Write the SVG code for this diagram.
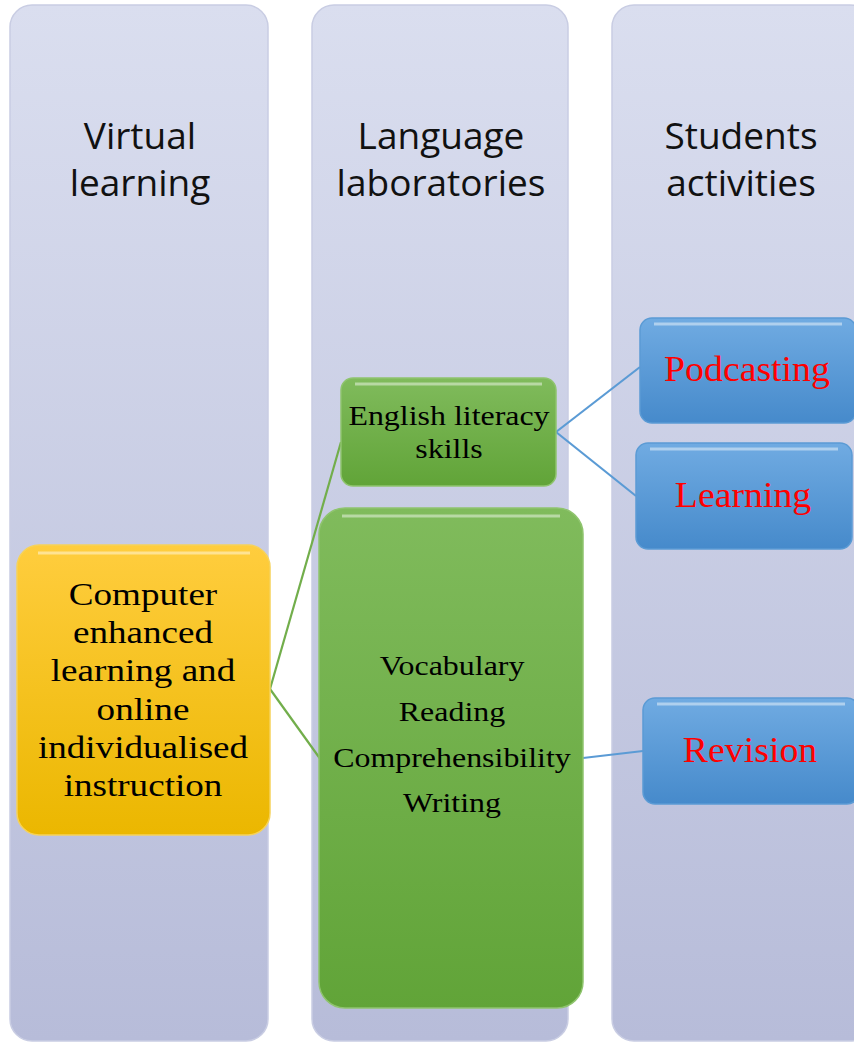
<svg xmlns="http://www.w3.org/2000/svg" width="854" height="1046" viewBox="0 0 854 1046">
<defs>
<linearGradient id="gCol" x1="0" y1="0" x2="0" y2="1"><stop offset="0" stop-color="#dadeef"/><stop offset="1" stop-color="#b7bcd9"/></linearGradient>
<linearGradient id="gY" x1="0" y1="0" x2="0" y2="1"><stop offset="0" stop-color="#ffcd3e"/><stop offset="1" stop-color="#ebb700"/></linearGradient>
<linearGradient id="gG" x1="0" y1="0" x2="0" y2="1"><stop offset="0" stop-color="#80bb5c"/><stop offset="1" stop-color="#61a438"/></linearGradient>
<linearGradient id="gB" x1="0" y1="0" x2="0" y2="1"><stop offset="0" stop-color="#70abe2"/><stop offset="1" stop-color="#468acb"/></linearGradient>
</defs>
<style>
.col{fill:url(#gCol);stroke:#c9cde3;stroke-width:1.5}
.hd{font-family:"Open Sans","Liberation Sans",sans-serif;font-size:37px;fill:#111;text-anchor:middle}
.tm{font-family:"Liberation Serif",serif;fill:#000;text-anchor:middle}
.red{font-family:"Liberation Serif",serif;fill:#ff0000;text-anchor:middle;font-size:35px}
.hl{fill:none;stroke:#ffffff;stroke-opacity:0.45;stroke-width:3}
</style>
<rect width="854" height="1046" fill="#ffffff"/>
<g id="col1"><rect class="col" x="10" y="5" width="258" height="1036" rx="22"/><text class="hd" x="140" y="149">Virtual</text><text class="hd" x="140" y="196">learning</text></g>
<g id="col2"><rect class="col" x="312" y="5" width="256" height="1036" rx="22"/><text class="hd" x="441" y="149">Language</text><text class="hd" x="441" y="196">laboratories</text></g>
<g id="col3"><rect class="col" x="612" y="5" width="260" height="1036" rx="22"/><text class="hd" x="741" y="149">Students</text><text class="hd" x="741" y="196">activities</text></g>
<g id="connectors" fill="none" stroke-width="2.2">
<path d="M270 689 L341 442" stroke="#72ae4b"/>
<path d="M270 689 L321 760" stroke="#72ae4b"/>
<path d="M556 432 L640 367" stroke="#5b9bd5"/>
<path d="M556 432 L636 496" stroke="#5b9bd5"/>
<path d="M583 758 L643 751" stroke="#5b9bd5"/>
</g>
<g id="computer"><rect x="17" y="545" width="253" height="290" rx="22" fill="url(#gY)" stroke="#f6d25a" stroke-width="1.5"/><path class="hl" d="M38 553 H250"/>
<g transform="translate(143,0) scale(1.16,1)">
<text class="tm" font-size="32" x="0" y="605">Computer</text>
<text class="tm" font-size="32" x="0" y="643">enhanced</text>
<text class="tm" font-size="32" x="0" y="681">learning and</text>
<text class="tm" font-size="32" x="0" y="720">online</text>
<text class="tm" font-size="32" x="0" y="758">individualised</text>
<text class="tm" font-size="32" x="0" y="796">instruction</text></g></g>
<g id="english"><rect x="341" y="378" width="215" height="108" rx="12" fill="url(#gG)" stroke="#8fc46e" stroke-width="1.5"/><path class="hl" d="M355 384 H542"/>
<g transform="translate(449,0) scale(1.14,1)">
<text class="tm" font-size="28" x="0" y="425">English literacy</text>
<text class="tm" font-size="28" x="0" y="458">skills</text></g></g>
<g id="skills"><rect x="319" y="508" width="264" height="500" rx="26" fill="url(#gG)" stroke="#8fc46e" stroke-width="1.5"/><path class="hl" d="M342 516 H560"/>
<g transform="translate(452,0) scale(1.14,1)">
<text class="tm" font-size="28" x="0" y="675">Vocabulary</text>
<text class="tm" font-size="28" x="0" y="721">Reading</text>
<text class="tm" font-size="28" x="0" y="767">Comprehensibility</text>
<text class="tm" font-size="28" x="0" y="812">Writing</text></g></g>
<g id="podcasting"><rect x="640" y="318" width="216" height="105" rx="12" fill="url(#gB)" stroke="#5b9bd5" stroke-width="1.5"/><path class="hl" d="M654 324 H842"/><text class="red" transform="translate(747,0) scale(1.08,1)" x="0" y="381">Podcasting</text></g>
<g id="learning"><rect x="636" y="443" width="216" height="106" rx="12" fill="url(#gB)" stroke="#5b9bd5" stroke-width="1.5"/><path class="hl" d="M650 449 H838"/><text class="red" transform="translate(743,0) scale(1.08,1)" x="0" y="507">Learning</text></g>
<g id="revision"><rect x="643" y="698" width="216" height="106" rx="12" fill="url(#gB)" stroke="#5b9bd5" stroke-width="1.5"/><path class="hl" d="M657 704 H845"/><text class="red" transform="translate(750,0) scale(1.08,1)" x="0" y="762">Revision</text></g>
</svg>
